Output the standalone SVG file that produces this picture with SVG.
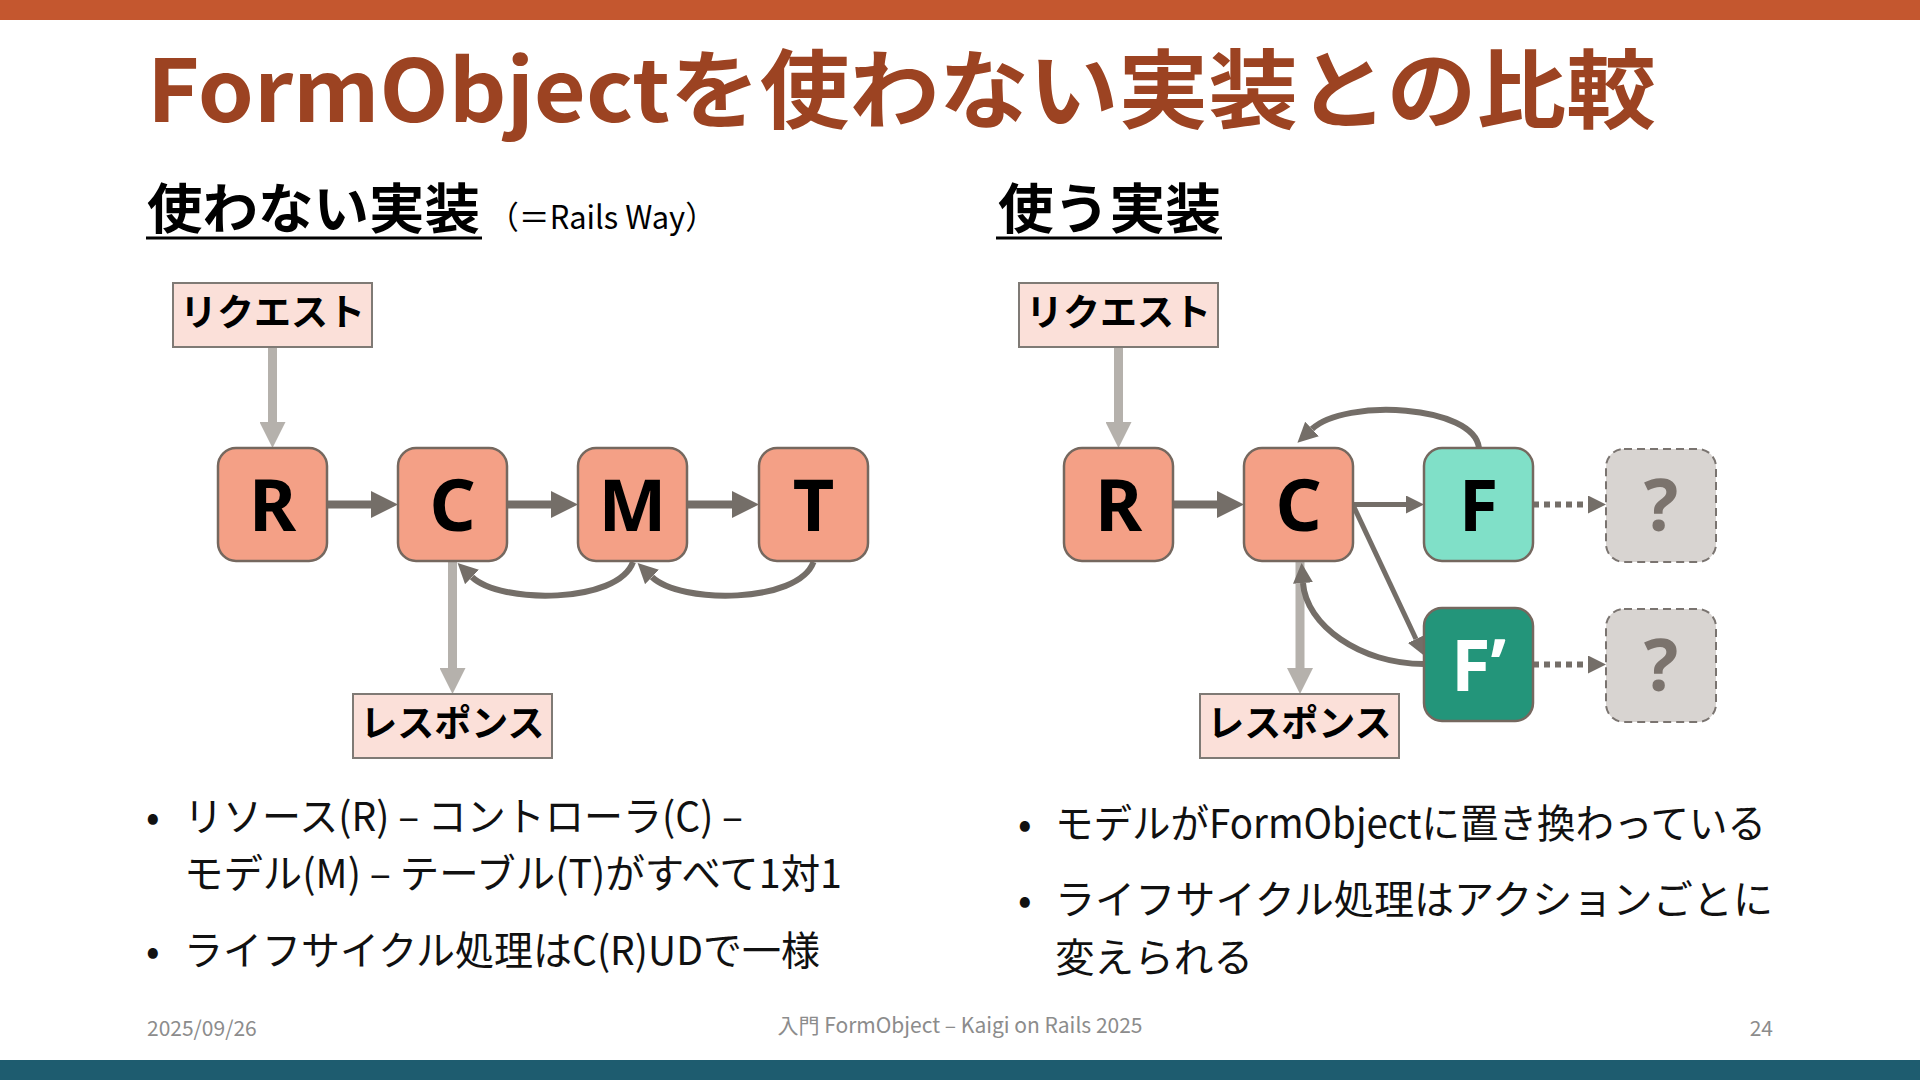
<svg xmlns="http://www.w3.org/2000/svg" width="1920" height="1080" viewBox="0 0 1920 1080">
<defs>
<style>
.jp{font-family:"Noto Sans CJK JP","Noto Sans",sans-serif;}
.title{font-size:86px;font-weight:700;fill:#9C4322;}
.sub{font-size:54px;font-weight:700;fill:#000;}
.paren{font-size:32px;font-weight:400;fill:#000;}
.lbl{font-size:37px;font-weight:700;fill:#000;}
.bul{font-size:40px;font-weight:400;fill:#111;}
.foot{font-size:21px;fill:#8C8C8C;}
.io{fill:#FBE0D9;stroke:#7F7A75;stroke-width:2;}
.node{fill:#F4A086;stroke:#75685F;stroke-width:2.5;}
.fnode{fill:#80E0C8;stroke:#75685F;stroke-width:2.5;}
.fpnode{fill:#23957A;stroke:#75685F;stroke-width:2.5;}
.qnode{fill:#D8D4D1;stroke:#7A7470;stroke-width:2;stroke-dasharray:8 5;}
.let{font-family:"Noto Sans","Open Sans",sans-serif;font-size:72px;font-weight:700;fill:#000;text-anchor:middle;}
.gray{fill:none;stroke:#B5B1AC;stroke-width:9;}
.thick{fill:none;stroke:#746E68;stroke-width:8;}
.thin{fill:none;stroke:#746E68;stroke-width:5;}
.curve{fill:none;stroke:#746E68;stroke-width:6;}
.dot{fill:none;stroke:#746E68;stroke-width:6;stroke-dasharray:6 5;}
</style>
<marker id="hGray" viewBox="0 0 26 26" refX="0" refY="13" markerWidth="26" markerHeight="26" markerUnits="userSpaceOnUse" orient="auto"><path d="M0,0 L26,13 L0,26 z" fill="#B5B1AC"/></marker>
<marker id="hBig" viewBox="0 0 27 27" refX="0" refY="13.5" markerWidth="27" markerHeight="27" markerUnits="userSpaceOnUse" orient="auto"><path d="M0,0 L27,13.5 L0,27 z" fill="#746E68"/></marker>
<marker id="hSm" viewBox="0 0 18 18" refX="0" refY="9" markerWidth="18" markerHeight="18" markerUnits="userSpaceOnUse" orient="auto"><path d="M0,0 L18,9 L0,18 z" fill="#746E68"/></marker>
<marker id="hCur" viewBox="0 0 20 20" refX="0" refY="10" markerWidth="20" markerHeight="20" markerUnits="userSpaceOnUse" orient="auto"><path d="M0,0 L20,10 L0,20 z" fill="#746E68"/></marker>
</defs>
<rect x="0" y="0" width="1920" height="1080" fill="#FFFFFF"/>
<rect x="0" y="0" width="1920" height="20" fill="#C4572F"/>
<rect x="0" y="1060" width="1920" height="20" fill="#1E5C6F"/>

<text class="jp title" x="147" y="122" textLength="1509" lengthAdjust="spacingAndGlyphs">FormObjectを使わない実装との比較</text>

<g id="heading-left">
<text class="jp sub" x="147" y="229" textLength="333" lengthAdjust="spacingAndGlyphs">使わない実装</text>
<line x1="146" y1="238" x2="482" y2="238" stroke="#000" stroke-width="3"/>
<text class="jp paren" x="488" y="229" textLength="228" lengthAdjust="spacingAndGlyphs">（＝Rails Way）</text>
</g>
<g id="heading-right">
<text class="jp sub" x="998" y="229" textLength="223" lengthAdjust="spacingAndGlyphs">使う実装</text>
<line x1="996" y1="238" x2="1222" y2="238" stroke="#000" stroke-width="3"/>
</g>

<g id="connectors">
<!-- left -->
<line class="gray" x1="272.5" y1="347" x2="272.5" y2="422" marker-end="url(#hGray)"/>
<line class="thick" x1="327" y1="504.5" x2="371" y2="504.5" marker-end="url(#hBig)"/>
<line class="thick" x1="507" y1="504.5" x2="551" y2="504.5" marker-end="url(#hBig)"/>
<line class="thick" x1="687" y1="504.5" x2="732" y2="504.5" marker-end="url(#hBig)"/>
<line class="gray" x1="452.5" y1="561" x2="452.5" y2="668" marker-end="url(#hGray)"/>
<path class="curve" d="M633,562 C618,604 500,604 472,577" marker-end="url(#hCur)"/>
<path class="curve" d="M813.5,562 C798,604 680,604 652,577" marker-end="url(#hCur)"/>
<!-- right -->
<line class="gray" x1="1118.5" y1="347" x2="1118.5" y2="422" marker-end="url(#hGray)"/>
<line class="thick" x1="1173" y1="504.5" x2="1217" y2="504.5" marker-end="url(#hBig)"/>
<line class="thin" x1="1353" y1="504.5" x2="1406" y2="504.5" marker-end="url(#hSm)"/>
<line class="thin" x1="1353" y1="505" x2="1416" y2="639" marker-end="url(#hSm)"/>
<line class="dot" x1="1533" y1="504.5" x2="1588" y2="504.5" marker-end="url(#hSm)"/>
<line class="dot" x1="1533" y1="664.5" x2="1588" y2="664.5" marker-end="url(#hSm)"/>
<line class="gray" x1="1300" y1="561" x2="1300" y2="668" marker-end="url(#hGray)"/>
<path class="curve" d="M1479,448 C1474,405 1345,398 1312,429" marker-end="url(#hCur)"/>
<path class="curve" d="M1424,664 C1360,664 1306,625 1303,583" marker-end="url(#hCur)"/>
</g>

<g id="req-left"><rect class="io" x="173" y="283" width="199" height="64"/><text class="jp lbl" x="272.5" y="326" text-anchor="middle">リクエスト</text></g>
<g id="res-left"><rect class="io" x="353" y="694" width="199" height="64"/><text class="jp lbl" x="452.5" y="737" text-anchor="middle">レスポンス</text></g>
<g id="R-left"><rect class="node" x="218" y="448" width="109" height="113" rx="18"/><text class="let" x="272.5" y="531">R</text></g>
<g id="C-left"><rect class="node" x="398" y="448" width="109" height="113" rx="18"/><text class="let" x="452.5" y="531">C</text></g>
<g id="M-left"><rect class="node" x="578" y="448" width="109" height="113" rx="18"/><text class="let" x="632.5" y="531">M</text></g>
<g id="T-left"><rect class="node" x="759" y="448" width="109" height="113" rx="18"/><text class="let" x="813.5" y="531">T</text></g>

<g id="req-right"><rect class="io" x="1019" y="283" width="199" height="64"/><text class="jp lbl" x="1118.5" y="326" text-anchor="middle">リクエスト</text></g>
<g id="res-right"><rect class="io" x="1200" y="694" width="199" height="64"/><text class="jp lbl" x="1299.5" y="737" text-anchor="middle">レスポンス</text></g>
<g id="R-right"><rect class="node" x="1064" y="448" width="109" height="113" rx="18"/><text class="let" x="1118.5" y="531">R</text></g>
<g id="C-right"><rect class="node" x="1244" y="448" width="109" height="113" rx="18"/><text class="let" x="1298.5" y="531">C</text></g>
<g id="F"><rect class="fnode" x="1424" y="448" width="109" height="113" rx="18"/><text class="let" x="1478.5" y="531">F</text></g>
<g id="Fprime"><rect class="fpnode" x="1424" y="608" width="109" height="113" rx="18"/><text class="let" x="1478.5" y="691" style="fill:#FFFFFF">F’</text></g>
<g id="q1"><rect class="qnode" x="1606" y="449" width="110" height="113" rx="18"/><text class="let" x="1661" y="531" style="fill:#7B736D">?</text></g>
<g id="q2"><rect class="qnode" x="1606" y="609" width="110" height="113" rx="18"/><text class="let" x="1661" y="691" style="fill:#7B736D">?</text></g>

<g id="bullets-left">
<text class="jp bul" x="146" y="831">•</text>
<text class="jp bul" x="184" y="831" textLength="559" lengthAdjust="spacingAndGlyphs">リソース(R) – コントローラ(C) –</text>
<text class="jp bul" x="184" y="888" textLength="658" lengthAdjust="spacingAndGlyphs">モデル(M) – テーブル(T)がすべて1対1</text>
<text class="jp bul" x="146" y="965">•</text>
<text class="jp bul" x="184" y="965" textLength="636" lengthAdjust="spacingAndGlyphs">ライフサイクル処理はC(R)UDで一様</text>
</g>
<g id="bullets-right">
<text class="jp bul" x="1018" y="838">•</text>
<text class="jp bul" x="1055" y="838" textLength="711" lengthAdjust="spacingAndGlyphs">モデルがFormObjectに置き換わっている</text>
<text class="jp bul" x="1018" y="914">•</text>
<text class="jp bul" x="1055" y="914" textLength="718" lengthAdjust="spacingAndGlyphs">ライフサイクル処理はアクションごとに</text>
<text class="jp bul" x="1055" y="972" textLength="198" lengthAdjust="spacingAndGlyphs">変えられる</text>
</g>

<g id="footer">
<text class="jp foot" x="147" y="1036">2025/09/26</text>
<text class="jp foot" x="960" y="1033" text-anchor="middle">入門 FormObject – Kaigi on Rails 2025</text>
<text class="jp foot" x="1773" y="1036" text-anchor="end">24</text>
</g>
</svg>
